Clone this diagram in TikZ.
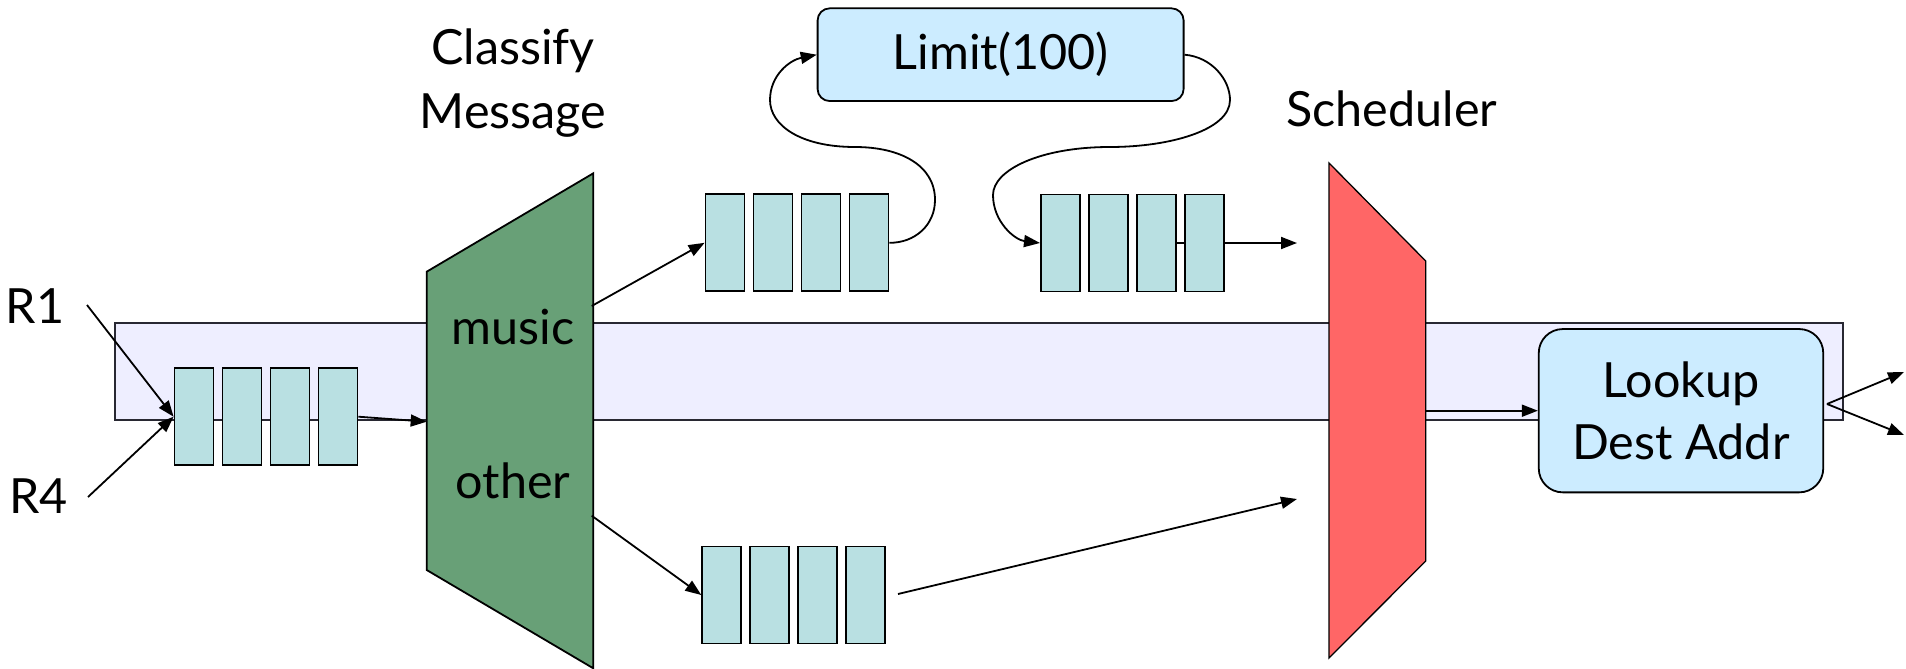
\documentclass[tikz,border=0pt]{standalone}
\usepackage{fontspec}
\setmainfont{Lato}
\usetikzlibrary{arrows.meta,backgrounds}
\definecolor{bandfill}{RGB}{238,238,255}
\definecolor{qfill}{RGB}{185,224,226}
\definecolor{clsgreen}{RGB}{104,160,119}
\definecolor{schred}{RGB}{255,102,102}
\definecolor{procfill}{RGB}{204,236,255}
\definecolor{edgegray}{RGB}{40,40,50}
\begin{document}
\begin{tikzpicture}[x=1pt,y=-1pt,
  every node/.style={font=\fontsize{48.5}{62}\selectfont},
  qbox/.style={draw, fill=qfill, line width=1.8pt, minimum width=39pt, minimum height=97pt, inner sep=0pt},
  arr/.style={line width=1.8pt, -{Triangle[length=16pt,width=12pt]}},
  proc/.style={draw, fill=procfill, line width=1.8pt, inner sep=0pt, align=center},
  lbl/.style={inner sep=0pt, anchor=base}]
\useasboundingbox (0,0) rectangle (1906,669);

% band
\node[draw=edgegray, fill=bandfill, line width=1.8pt, minimum width=1728pt, minimum height=96.7pt, inner sep=0pt, anchor=north west] (band) at (113.9,322.3) {};

% classifier and scheduler shapes
\filldraw[fill=clsgreen, draw=black, line width=1.8pt] (426.7,271.7) -- (593.3,173.3) -- (593.3,668.3) -- (426.7,570) -- cycle;
\filldraw[fill=schred, draw=black, line width=1.3pt] (1329,163) -- (1425.7,261) -- (1425.7,561) -- (1329,658) -- cycle;

% labels
\node[lbl] (classify) at (513,65) {Classify};
\node[lbl] (message) at (513,128.3) {Message};
\node[lbl] (sched) at (1391.7,126.7) {Scheduler};
\node[lbl] (music) at (513,344) {music};
\node[lbl] (other) at (513,498) {other};
\node[lbl] (r1) at (35,323.3) {R1};
\node[lbl] (r4) at (38.3,513.3) {R4};

% process boxes
\node[proc, rounded corners=12pt, minimum width=366pt, minimum height=92.7pt] (limit) at (1000.6,54.7) {Limit(100)};
\node[proc, rounded corners=24pt, minimum width=284.5pt, minimum height=163.3pt] (lookup) at (1681,410.7) {Lookup\\Dest Addr};

% queues
\foreach \i in {1,2,3,4} {
  \node[qbox] (q0\i) at ({194+48*(\i-1)},416.7) {};
  \node[qbox] (q1\i) at ({725+48*(\i-1)},242.8) {};
  \node[qbox] (q2\i) at ({721.7+48*(\i-1)},595) {};
  \node[qbox] (q3\i) at ({1060.4+48*(\i-1)},243) {};
}

% coordinates
\coordinate (r1s) at (87,305);
\coordinate (r4s) at (88,497);
\coordinate (gin) at (426.7,421.7);
\coordinate (gmusic) at (591.7,306);
\coordinate (gother) at (591.7,515.7);
\coordinate (schin) at (1297,243);
\coordinate (q2out) at (898,594);
\coordinate (schin2) at (1297,499);
\coordinate (schout) at (1425.7,410.7);
\coordinate (lkout) at (1827,404);
\coordinate (out1) at (1904,372);
\coordinate (out2) at (1904,435);

% connectors
\draw[arr] (r1s) -- (q01.west);
\draw[arr] (r4s) -- (q01.west);
\draw[arr] (q04.east) -- (gin);
\draw[arr] (gmusic) -- (q11.west);
\draw[arr] (gother) -- (q21.west);
\draw[arr] (q14.east) .. controls (915,243) and (935,225) .. (935,200)
  .. controls (935,165) and (900,147) .. (855,147)
  .. controls (800,147) and (770,125) .. (770,100)
  .. controls (770,75) and (790,60) .. (limit.west);
\draw[arr] (limit.east) .. controls (1212,57) and (1230,80) .. (1230,100)
  .. controls (1230,130) and (1170,147) .. (1110,147)
  .. controls (1040,147) and (993,170) .. (993,195)
  .. controls (993,222) and (1015,240) .. (q31.west);
\begin{scope}[on background layer]
\draw[arr] (q33.east) -- (schin);
\end{scope}
\draw[arr] (q2out) -- (schin2);
\draw[arr] (schout) -- (lookup.west);
\draw[arr] (lkout) -- (out1);
\draw[arr] (lkout) -- (out2);
\end{tikzpicture}
\end{document}
